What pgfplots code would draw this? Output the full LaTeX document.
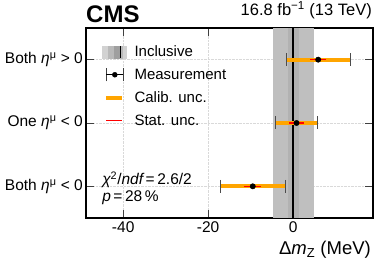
\documentclass[border=0pt]{standalone}
\usepackage{fontspec}
\setmainfont{Liberation Sans}
\usepackage{pgfplots}
\usepackage{pgfplotstable}
\pgfplotsset{compat=1.18}
\definecolor{mplorange}{RGB}{255,165,0}
\definecolor{mplred}{RGB}{255,0,0}
\pgfplotstableread{
y x tot stat
2 5.9 7.6 1.85
1 0.8 5.0 1.85
0 -9.5 7.6 1.95
}\meas
\begin{document}
\begin{tikzpicture}
\begin{axis}[
  scale only axis, width=287pt, height=190pt,
  xmin=-48.75, xmax=18.8, ymin=-0.5, ymax=2.5,
  axis line style={line width=1.1pt},
  xtick={-40,-20,0}, xticklabels={-40,-20,0},
  ytick={0,1,2},
  yticklabels={Both {\itshape η}\textsuperscript{μ} < 0, One {\itshape η}\textsuperscript{μ} < 0, Both {\itshape η}\textsuperscript{μ} > 0},
  tick align=inside, major tick length=8pt,
  tick style={black!75, line width=0.6pt},
  grid=major, grid style={densely dotted, gray!30, line width=0.5pt},
  ticklabel style={font=\fontsize{15.5}{18}\selectfont},
  yticklabel style={inner sep=3pt},
  xlabel={Δ{\itshape m}\textsubscript{Z} (MeV)},
  xlabel style={at={(rel axis cs:1,0)}, anchor=north east, inner sep=0pt, yshift=-23pt, xshift=-2pt, font=\fontsize{18.5}{22}\selectfont},
  legend style={at={(0.045,0.929)}, anchor=north west, draw=none, fill=none,
    font=\fontsize{15}{18}\selectfont, row sep=6.8pt, column sep=6pt},
  legend cell align=left,
  clip=false,
]
\addplot[forget plot, draw=none, fill=gray!50] coordinates {(-4.8,-0.5) (4.8,-0.5) (4.8,2.5) (-4.8,2.5)} -- cycle;
\addplot[forget plot, draw=none, fill=gray!60] coordinates {(-1.3,-0.5) (1.3,-0.5) (1.3,2.5) (-1.3,2.5)} -- cycle;
\addplot[forget plot, black, line width=1.3pt] coordinates {(0,-0.5) (0,2.5)};
\addplot[forget plot, only marks, mark=none,
  error bars/.cd, x dir=both, x explicit, error mark=none,
  error bar style={draw=mplorange, line width=4pt}]
  table[x=x, y=y, x error=tot] {\meas};
\addplot[forget plot, only marks, mark=|, mark size=6.5pt, mark options={draw=black!70, line width=0.8pt}]
  table[x expr=\thisrow{x}-\thisrow{tot}, y=y] {\meas};
\addplot[forget plot, only marks, mark=|, mark size=6.5pt, mark options={draw=black!70, line width=0.8pt}]
  table[x expr=\thisrow{x}+\thisrow{tot}, y=y] {\meas};
\addplot[forget plot, only marks, mark=none,
  error bars/.cd, x dir=both, x explicit, error mark=none,
  error bar style={draw=mplred, line width=1.5pt}]
  table[x=x, y=y, x error=stat] {\meas};
\addplot[forget plot, only marks, mark=*, mark size=2.7pt, black] table[x=x, y=y] {\meas};

\addlegendimage{legend image code/.code={
  \fill[gray!35] (0pt,-6pt) rectangle (24pt,6pt);
  \fill[gray!55] (6pt,-6pt) rectangle (20pt,6pt);
  \fill[gray!75] (12pt,-6pt) rectangle (17pt,6pt);
  \draw[black, line width=1.3pt] (18pt,-6pt) -- (18pt,6pt);}}
\addlegendentry{Inclusive}
\addlegendimage{legend image code/.code={
  \draw[black!75, line width=0.8pt] (4pt,-6.5pt) -- (4pt,6.5pt) (21pt,-6.5pt) -- (21pt,6.5pt);
  \draw[black, line width=0.9pt] (4pt,0pt) -- (21pt,0pt);
  \fill[black] (12.5pt,0pt) circle (2.5pt);}}
\addlegendentry{Measurement}
\addlegendimage{legend image code/.code={
  \draw[draw=mplorange, line width=4pt] (4pt,0pt) -- (20pt,0pt);}}
\addlegendentry{Calib. unc.}
\addlegendimage{legend image code/.code={
  \draw[draw=mplred, line width=1.5pt] (4pt,0pt) -- (20pt,0pt);}}
\addlegendentry{Stat. unc.}

\node[anchor=base west, inner sep=0pt, font=\fontsize{24}{28}\selectfont\bfseries] at (rel axis cs:0,1) [yshift=5pt] {CMS};
\node[anchor=base east, inner sep=0pt, font=\fontsize{16.5}{20}\selectfont] at (rel axis cs:1,1) [yshift=12pt, xshift=-1pt] {16.8 fb\textsuperscript{−1} (13 TeV)};
\node[anchor=base west, inner sep=0pt, font=\fontsize{15.5}{18}\selectfont] at (rel axis cs:0.056,0) [yshift=33pt] {{\itshape χ}\textsuperscript{2}/{\itshape ndf}\,=\,2.6/2};
\node[anchor=base west, inner sep=0pt, font=\fontsize{15.5}{18}\selectfont] at (rel axis cs:0.056,0) [yshift=16pt] {{\itshape p}\,=\,28\,\%};
\end{axis}
\pgfresetboundingbox
\path[use as bounding box] (-86pt,-46pt) rectangle (292pt,218pt);
\end{tikzpicture}
\end{document}
